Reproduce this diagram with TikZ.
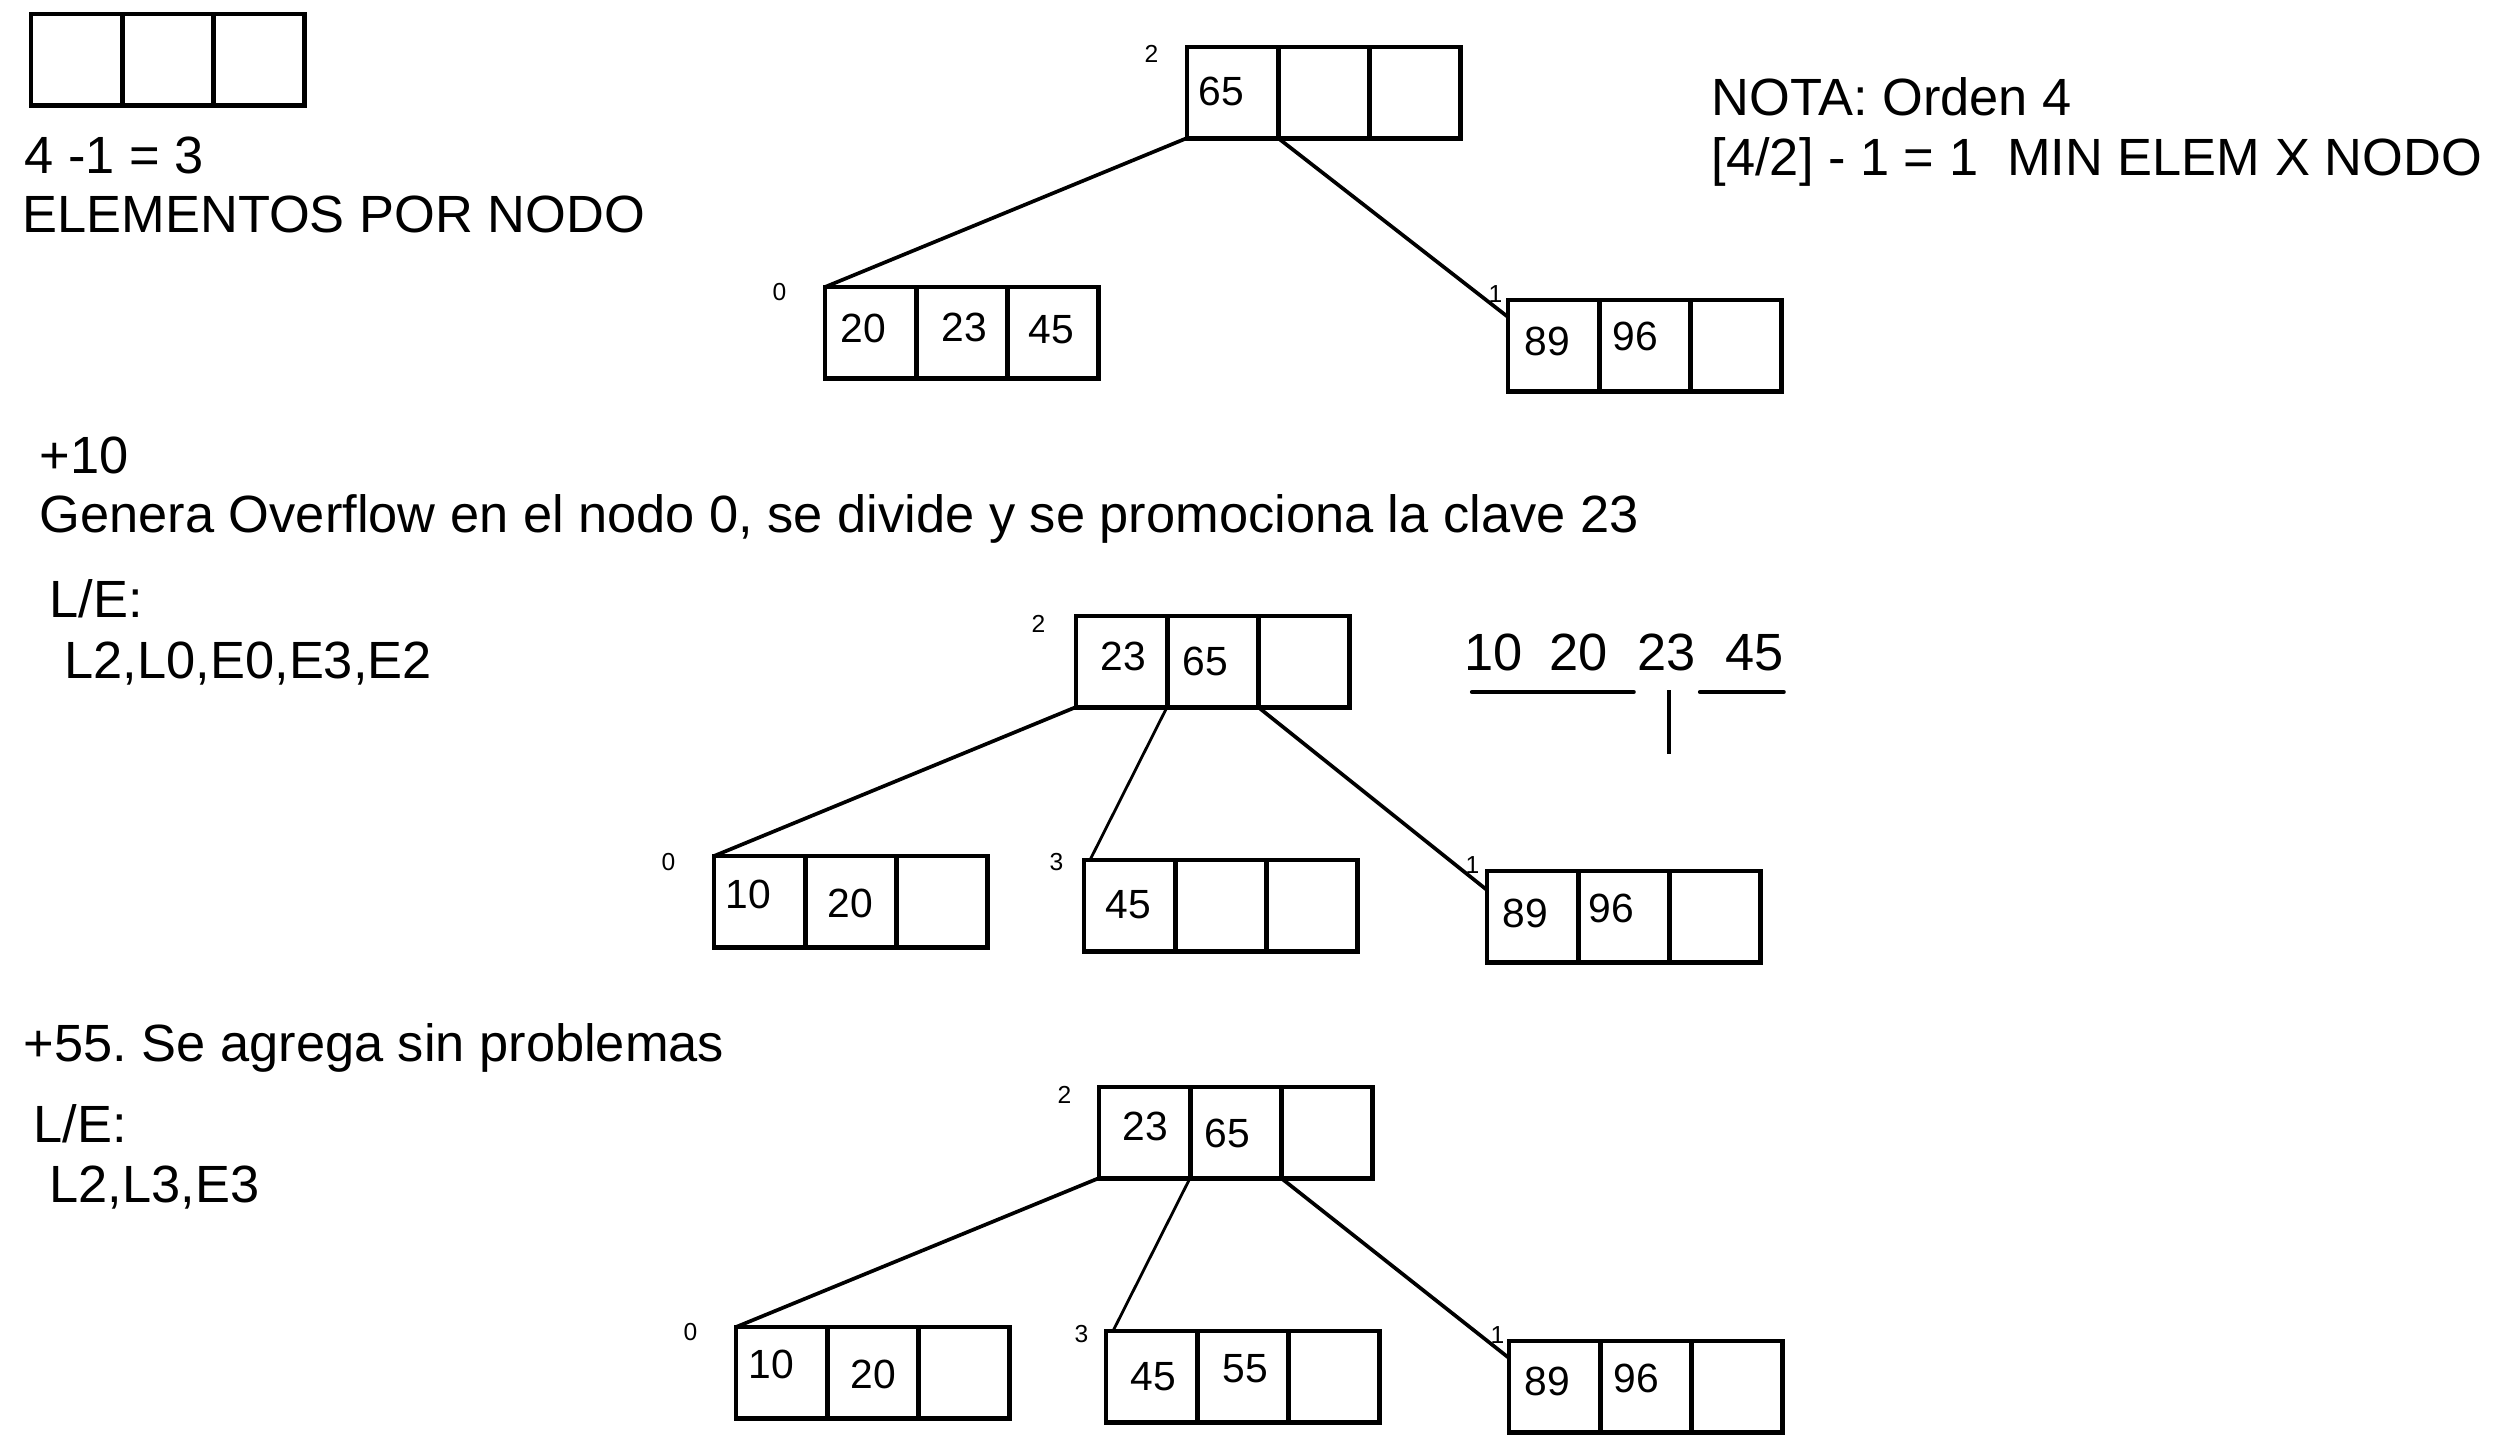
\documentclass[tikz,border=0pt]{standalone}
\usepackage{fontspec}
\setmainfont{Liberation Sans}
\frenchspacing
\usetikzlibrary{positioning,calc}

\tikzset{
  cell/.style={draw, line width=1.4pt, minimum width=0.91cm, minimum height=0.91cm,
    inner sep=0pt, outer sep=0pt, anchor=north west},
  key/.style={font=\fontsize{11.6}{13}\selectfont, inner sep=0pt, anchor=base west},
  tag/.style={font=\fontsize{7}{8}\selectfont, inner sep=0pt, anchor=base west},
  txt/.style={font=\fontsize{14.9}{18}\selectfont, inner sep=0pt, anchor=base west},
  link/.style={line width=1.05pt},
  thinlink/.style={line width=0.8pt},
}

\begin{document}
\begin{tikzpicture}[x=0.01cm, y=-0.01cm]
\useasboundingbox (0,0) rectangle (2520,1444);

% nodo vacio y textos de arriba
\node[cell] (ea) at (31,14) {}; \node[cell, right=0pt of ea] (eb) {}; \node[cell, right=0pt of eb] (ec) {};
\node[txt] (tcalc) at (24,173) {4 -1 = 3};
\node[txt] (telem) at (22,232) {ELEMENTOS POR NODO};
\node[txt] (tnota) at (1711,115) {NOTA: Orden 4};
\node[txt] (tmin) at (1711,175) {[4/2] - 1 = 1 \ MIN ELEM X NODO};

% arbol 1
\node[cell] (t1n2a) at (1187,47) {}; \node[cell, right=0pt of t1n2a] (t1n2b) {}; \node[cell, right=0pt of t1n2b] (t1n2c) {};
\node[cell] (t1n0a) at (825,287) {}; \node[cell, right=0pt of t1n0a] (t1n0b) {}; \node[cell, right=0pt of t1n0b] (t1n0c) {};
\node[cell] (t1n1a) at (1508,300) {}; \node[cell, right=0pt of t1n1a] (t1n1b) {}; \node[cell, right=0pt of t1n1b] (t1n1c) {};
\node[tag] (t1g2) at (1144,62) {2};
\node[tag] (t1g0) at (772,300) {0};
\node[tag] (t1g1) at (1488,302) {1};
\node[key] (t1k65) at (1198,105) {65};
\node[key] (t1k20) at (840,342) {20};
\node[key] (t1k23) at (941,341) {23};
\node[key] (t1k45) at (1028,343) {45};
\node[key] (t1k89) at (1524,355) {89};
\node[key] (t1k96) at (1612,350) {96};
\draw[link] (t1n2a.south west) -- (t1n0a.north west);
\draw[link] (t1n2a.south east) -- ([yshift=-0.17cm]t1n1a.north west);

% +10
\node[txt] (tadd10) at (39,473) {+10};
\node[txt] (tgen) at (39,532) {Genera Overflow en el nodo 0, se divide y se promociona la clave 23};
\node[txt] (tle1) at (49,617) {L/E:};
\node[txt] (tops1) at (64,678) {L2,L0,E0,E3,E2};

% division
\node[txt] (s10) at (1464,670) {10};
\node[txt] (s20) at (1549,670) {20};
\node[txt] (s23) at (1637,670) {23};
\node[txt] (s45) at (1725,670) {45};
\draw[line width=1.2pt, line cap=round] ($(s10.base west)+(8,22)$) -- ($(s20.base east)+(25,22)$);
\draw[line width=1.2pt, line cap=round] ($(s45.base west)+(-25,22)$) -- ($(s45.base east)+(-1,22)$);
\draw[line width=1.2pt] ($(s23.base)+(2,20)$) -- ($(s23.base)+(2,84)$);

% arbol 2
\node[cell] (t2n2a) at (1076,616) {}; \node[cell, right=0pt of t2n2a] (t2n2b) {}; \node[cell, right=0pt of t2n2b] (t2n2c) {};
\node[cell] (t2n0a) at (714,856) {}; \node[cell, right=0pt of t2n0a] (t2n0b) {}; \node[cell, right=0pt of t2n0b] (t2n0c) {};
\node[cell] (t2n3a) at (1084,860) {}; \node[cell, right=0pt of t2n3a] (t2n3b) {}; \node[cell, right=0pt of t2n3b] (t2n3c) {};
\node[cell] (t2n1a) at (1487,871) {}; \node[cell, right=0pt of t2n1a] (t2n1b) {}; \node[cell, right=0pt of t2n1b] (t2n1c) {};
\node[tag] (t2g2) at (1031,632) {2};
\node[tag] (t2g0) at (661,870) {0};
\node[tag] (t2g3) at (1049,870) {3};
\node[tag] (t2g1) at (1465,873) {1};
\node[key] (t2k23) at (1100,670) {23};
\node[key] (t2k65) at (1182,675) {65};
\node[key] (t2k10) at (725,908) {10};
\node[key] (t2k20) at (827,917) {20};
\node[key] (t2k45) at (1105,918) {45};
\node[key] (t2k89) at (1502,927) {89};
\node[key] (t2k96) at (1588,922) {96};
\draw[link] (t2n2a.south west) -- (t2n0a.north west);
\draw[thinlink] (t2n2a.south east) -- ([xshift=0.06cm]t2n3a.north west);
\draw[link] (t2n2b.south east) -- ([yshift=-0.19cm]t2n1a.north west);

% +55
\node[txt] (tadd55) at (23,1061) {+55. Se agrega sin problemas};
\node[txt] (tle2) at (33,1142) {L/E:};
\node[txt] (tops2) at (49,1202) {L2,L3,E3};

% arbol 3
\node[cell] (t3n2a) at (1099,1087) {}; \node[cell, right=0pt of t3n2a] (t3n2b) {}; \node[cell, right=0pt of t3n2b] (t3n2c) {};
\node[cell] (t3n0a) at (736,1327) {}; \node[cell, right=0pt of t3n0a] (t3n0b) {}; \node[cell, right=0pt of t3n0b] (t3n0c) {};
\node[cell] (t3n3a) at (1106,1331) {}; \node[cell, right=0pt of t3n3a] (t3n3b) {}; \node[cell, right=0pt of t3n3b] (t3n3c) {};
\node[cell] (t3n1a) at (1509,1341) {}; \node[cell, right=0pt of t3n1a] (t3n1b) {}; \node[cell, right=0pt of t3n1b] (t3n1c) {};
\node[tag] (t3g2) at (1057,1103) {2};
\node[tag] (t3g0) at (683,1340) {0};
\node[tag] (t3g3) at (1074,1342) {3};
\node[tag] (t3g1) at (1490,1343) {1};
\node[key] (t3k23) at (1122,1140) {23};
\node[key] (t3k65) at (1204,1147) {65};
\node[key] (t3k10) at (748,1378) {10};
\node[key] (t3k20) at (850,1388) {20};
\node[key] (t3k45) at (1130,1390) {45};
\node[key] (t3k55) at (1222,1382) {55};
\node[key] (t3k89) at (1524,1395) {89};
\node[key] (t3k96) at (1613,1392) {96};
\draw[link] (t3n2a.south west) -- (t3n0a.north west);
\draw[thinlink] (t3n2a.south east) -- ([xshift=0.07cm]t3n3a.north west);
\draw[link] (t3n2b.south east) -- ([yshift=-0.17cm]t3n1a.north west);
\end{tikzpicture}
\end{document}
